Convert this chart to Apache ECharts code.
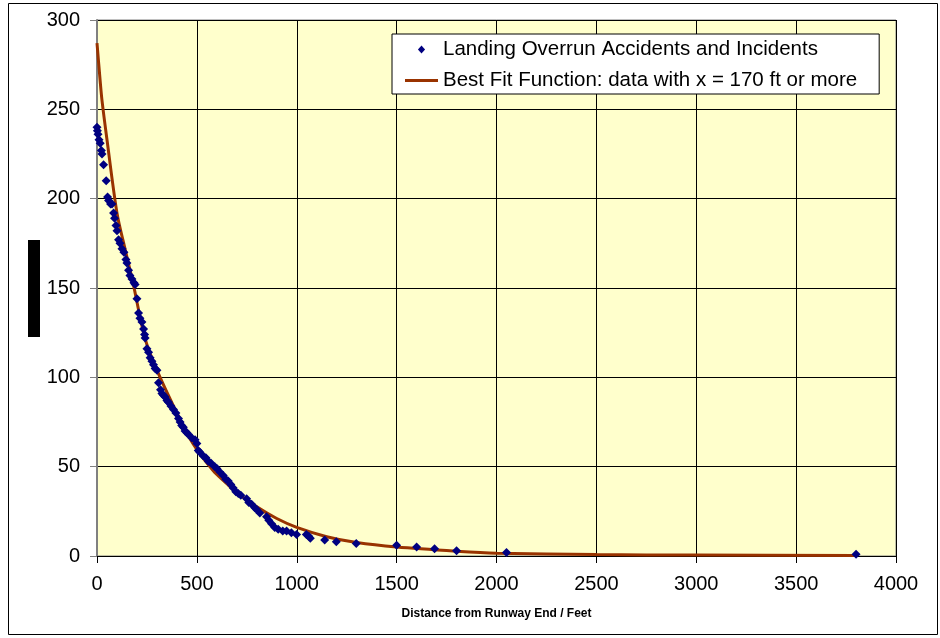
<!DOCTYPE html>
<html>
<head>
<meta charset="utf-8">
<script src="https://cdn.jsdelivr.net/npm/echarts@6/dist/echarts.min.js"></script>
<style>
  html, body { margin: 0; padding: 0; background: #fff; }
  #chart { width: 940px; height: 638px; }
</style>
</head>
<body>
<div id="chart"></div>
<script>
// overrun points: distance past runway end (ft), count
var overrun_x = [0, 2, 5, 10, 16, 22, 25, 33, 46, 53, 58, 68, 75, 83, 88, 95, 100, 108, 115, 125,
    135, 145, 150, 158, 165, 175, 185, 191, 200, 208, 215, 225, 233, 238, 241, 250, 258, 266, 275, 283,
    291, 300, 308, 318, 325, 333, 341, 350, 358, 370, 383, 395, 408, 416, 424, 432, 441, 450, 458, 475,
    491, 500, 507, 515, 532, 545, 557, 570, 590, 600, 615, 632, 645, 657, 670, 682, 695, 707, 720, 749,
    760, 774, 790, 799, 815, 849, 860, 874, 890, 907, 930, 949, 973, 999, 1048, 1060, 1068, 1140, 1198, 1298,
    1500, 1600, 1690, 1800, 2050, 3800];
var overrun_y = [240, 238, 236, 233, 231, 227, 225, 219, 210, 201, 199, 197, 197, 192, 189, 185, 182, 177, 175, 172,
    170, 166, 164, 160, 157, 155, 153, 152, 144, 136, 133, 131, 127, 124, 122, 116, 114, 111, 109, 107,
    105, 104, 97, 93, 91, 90, 89, 87, 86, 84, 82, 80, 77, 75, 73, 72, 70, 69, 68, 66,
    65, 63, 59, 58, 56, 55, 53, 52, 50, 49, 47, 45, 43, 42, 40, 38, 36, 35, 34, 32,
    30, 29, 27, 26, 24, 22, 20, 18, 16, 15, 14, 14, 13, 12, 12, 11, 10, 9, 8, 7,
    6, 5, 4, 3, 2, 1];

// best fit curve
var fit_x = [0, 15, 25, 50, 100, 140, 180, 240, 300, 400, 480, 580, 650, 700, 800, 900, 1000, 1150, 1300, 1500, 1800, 2000, 2500, 3000, 3800];
var fit_y = [287, 267, 255, 233, 192, 172, 153, 122, 104, 80, 63, 48, 40.5, 35.5, 27.5, 21, 16, 10.8, 7.5, 5, 2.7, 1.6, 0.8, 0.5, 0.3];

var x_ticks = [0, 500, 1000, 1500, 2000, 2500, 3000, 3500, 4000];
var y_ticks = [0, 50, 100, 150, 200, 250, 300];

var scatter_data = [];
for (let i = 0; i < overrun_x.length; i++) {
    scatter_data.push([overrun_x[i], overrun_y[i]]);
}
var fit_data = [];
for (let i = 0; i < fit_x.length; i++) {
    fit_data.push([fit_x[i], fit_y[i]]);
}

var myChart = echarts.init(document.getElementById('chart'));
var font = 'Liberation Sans, Arial, sans-serif';

var chart_option = {
    animation: false,
    backgroundColor: '#fff',
    textStyle: { fontFamily: font },
    grid: {
        left: 97,
        top: 20,
        right: 44,
        bottom: 82,
        show: true,
        backgroundColor: '#FFFFCC',
        borderColor: '#808080',
        borderWidth: 1
    },
    legend: {
        orient: 'vertical',
        left: 392,
        top: 34,
        padding: [5, 22, 3, 13],
        itemGap: 10,
        itemWidth: 33,
        itemHeight: 8,
        symbolKeepAspect: true,
        backgroundColor: '#fff',
        borderColor: '#000',
        borderWidth: 1,
        textStyle: { fontSize: 20.5, color: '#000', fontFamily: font },
        data: [{
            name: 'Landing Overrun Accidents and Incidents',
            icon: 'path://M4,0L8,4.5L4,9L0,4.5Z'
        }, {
            name: 'Best Fit Function: data with x = 170 ft or more',
            icon: 'path://M0,0L33,0L33,3L0,3Z'
        }]
    },
    xAxis: {
        type: 'value',
        min: x_ticks[0],
        max: x_ticks[x_ticks.length - 1],
        interval: 500,
        name: 'Distance from Runway End / Feet',
        nameLocation: 'middle',
        nameGap: 52,
        nameTextStyle: { fontSize: 12, fontWeight: 'bold', color: '#000', fontFamily: font },
        axisLine: { lineStyle: { color: '#000', width: 1 } },
        axisTick: { show: true, length: 7, lineStyle: { color: '#000' } },
        axisLabel: {
            fontSize: 20,
            color: '#000',
            margin: 18,
            formatter: function(v) { return String(v); }
        },
        splitLine: { show: true, lineStyle: { color: '#000', width: 1 } }
    },
    yAxis: {
        type: 'value',
        min: y_ticks[0],
        max: y_ticks[y_ticks.length - 1],
        interval: 50,
        axisLine: { show: true, lineStyle: { color: '#808080', width: 2 } },
        axisTick: { show: true, length: 7, lineStyle: { color: '#808080' } },
        axisLabel: { fontSize: 20, color: '#000', margin: 17 },
        splitLine: { show: true, lineStyle: { color: '#000', width: 1 } }
    },
    series: [{
        name: 'Landing Overrun Accidents and Incidents',
        type: 'scatter',
        symbol: 'diamond',
        symbolSize: 9,
        z: 3,
        itemStyle: { color: '#000080', opacity: 1 },
        data: scatter_data
    }, {
        name: 'Best Fit Function: data with x = 170 ft or more',
        type: 'line',
        showSymbol: false,
        smooth: 0.3,
        z: 2,
        lineStyle: { color: '#993300', width: 3 },
        itemStyle: { color: '#993300' },
        data: fit_data
    }],
    graphic: [{
        type: 'rect',
        shape: { x: 8.5, y: 3.5, width: 929, height: 631 },
        style: { fill: 'none', stroke: '#000', lineWidth: 1 },
        silent: true
    }, {
        // the blacked out y axis title
        type: 'rect',
        shape: { x: 28, y: 240, width: 12, height: 97 },
        style: { fill: '#000' },
        silent: true
    }]
};
myChart.setOption(chart_option);
</script>
</body>
</html>
